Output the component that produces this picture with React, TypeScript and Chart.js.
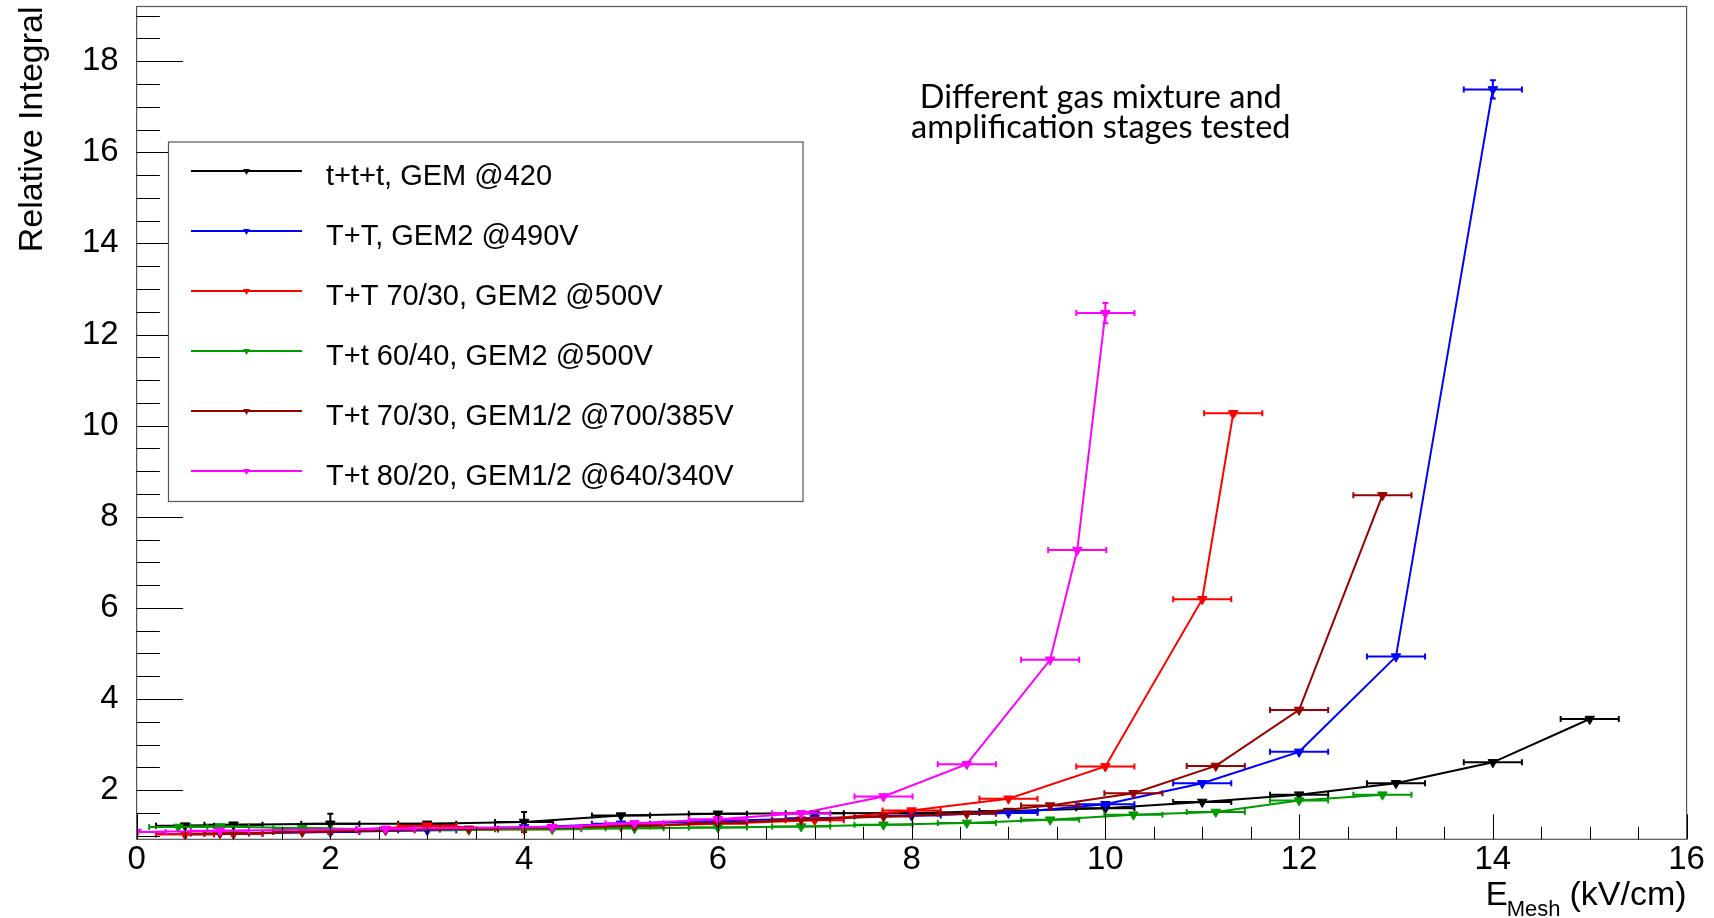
import React, { useEffect, useRef } from "react";
import { Chart, registerables } from "chart.js";

Chart.register(...registerables);

// ---------- axis setup ----------
const xTickValues = [0, 2, 4, 6, 8, 10, 12, 14, 16];
const yTickValues = [2, 4, 6, 8, 10, 12, 14, 16, 18];
const xMin = 0;
const xMax = 16;
const yMin = 0.92;
const yMax = 19.2;

// ---------- series ----------
const seriesNames = [
  "t+t+t, GEM @420",
  "T+T, GEM2 @490V",
  "T+T 70/30, GEM2 @500V",
  "T+t 60/40, GEM2 @500V",
  "T+t 70/30, GEM1/2 @700/385V",
  "T+t 80/20, GEM1/2 @640/340V",
];
const seriesColors = ["#000000", "#0000ff", "#ff0000", "#009900", "#990000", "#ff00ff"];

const blackX = [0.5, 1, 2, 3, 4, 5, 6, 7, 8, 9, 10, 11, 12, 13, 14, 15];
const blackY = [1.22, 1.24, 1.26, 1.26, 1.3, 1.44, 1.48, 1.49, 1.5, 1.54, 1.6, 1.74, 1.9, 2.15, 2.61, 3.56];
const blackYErr = [0, 0, 0.22, 0, 0.22, 0, 0, 0, 0, 0, 0, 0, 0, 0, 0, 0];

const blueX = [0.5, 1, 2, 3, 4, 5, 6, 7, 8, 9, 10, 11, 12, 13, 14];
const blueY = [1.03, 1.04, 1.08, 1.12, 1.18, 1.26, 1.32, 1.38, 1.44, 1.5, 1.69, 2.15, 2.84, 4.93, 17.38];
const blueYErr = [0, 0, 0, 0, 0, 0, 0, 0, 0, 0, 0, 0, 0, 0, 0.2];

const redX = [0.5, 1, 2, 3, 4, 5, 6, 7, 8, 9, 10, 11, 11.32];
const redY = [1.03, 1.04, 1.1, 1.22, 1.14, 1.2, 1.26, 1.34, 1.55, 1.81, 2.52, 6.19, 10.27];
const redYErr = [0, 0, 0, 0, 0, 0, 0, 0, 0, 0, 0, 0, 0.05];

const greenX = [0.43, 0.86, 1.71, 2.57, 3.43, 4.29, 5.14, 6.0, 6.86, 7.71, 8.57, 9.43, 10.29, 11.14, 12.0, 12.86];
const greenY = [1.19, 1.2, 1.16, 1.14, 1.13, 1.14, 1.16, 1.18, 1.2, 1.24, 1.28, 1.35, 1.46, 1.52, 1.77, 1.9];
const greenYErr = [0, 0, 0, 0, 0, 0, 0, 0, 0, 0, 0, 0, 0, 0, 0, 0];

const brownX = [0.86, 1.71, 2.57, 3.43, 4.29, 5.14, 6.0, 6.86, 7.71, 8.57, 9.43, 10.29, 11.14, 12.0, 12.86];
const brownY = [1.05, 1.08, 1.12, 1.15, 1.18, 1.22, 1.28, 1.35, 1.42, 1.48, 1.66, 1.93, 2.53, 3.76, 8.47];
const brownYErr = [0, 0, 0, 0, 0, 0, 0, 0, 0, 0, 0, 0, 0, 0, 0];

const magentaX = [0, 0.86, 2.57, 4.29, 5.14, 6.0, 6.86, 7.71, 8.57, 9.43, 9.71, 10.0];
const magentaY = [1.08, 1.11, 1.15, 1.19, 1.27, 1.36, 1.49, 1.86, 2.57, 4.86, 7.27, 12.47];
const magentaYErr = [0, 0, 0, 0, 0, 0, 0, 0, 0, 0, 0, 0.22];

const xErrorHalfWidth = 0.3;

// ---------- texts ----------
const annotationLines = ["Different gas mixture and", "amplification stages tested"];
const yTitle = "Relative Integral";
const xTitleMain = "E";
const xTitleSub = "Mesh";
const xTitleUnit = "(kV/cm)";

const allX = [blackX, blueX, redX, greenX, brownX, magentaX];
const allY = [blackY, blueY, redY, greenY, brownY, magentaY];
const allYErr = [blackYErr, blueYErr, redYErr, greenYErr, brownYErr, magentaYErr];

const FONT = "'Liberation Sans', Arial, Helvetica, sans-serif";

function downTriangle(ctx: CanvasRenderingContext2D, x: number, y: number, r: number) {
  ctx.beginPath();
  ctx.moveTo(x - r * 0.866, y - r * 0.5);
  ctx.lineTo(x + r * 0.866, y - r * 0.5);
  ctx.lineTo(x, y + r);
  ctx.closePath();
  ctx.fill();
}

const rootStylePlugin = {
  id: "rootStyle",
  beforeDatasetDraw(chart: any, args: any) {
    const ds = chart.data.datasets[args.index];
    const xs = chart.scales.x;
    const ys = chart.scales.y;
    const area = chart.chartArea;
    const ctx: CanvasRenderingContext2D = chart.ctx;
    ctx.save();
    ctx.beginPath();
    ctx.rect(area.left, area.top, area.right - area.left, area.bottom - area.top);
    ctx.clip();
    ctx.strokeStyle = ds.borderColor;
    ctx.lineWidth = 2;
    ds.data.forEach((p: any) => {
      const py = ys.getPixelForValue(p.y);
      const xl = xs.getPixelForValue(p.x - p.ex);
      const xr = xs.getPixelForValue(p.x + p.ex);
      const px = xs.getPixelForValue(p.x);
      ctx.beginPath();
      ctx.moveTo(xl, py);
      ctx.lineTo(xr, py);
      ctx.moveTo(xl, py - 3);
      ctx.lineTo(xl, py + 3);
      ctx.moveTo(xr, py - 3);
      ctx.lineTo(xr, py + 3);
      if (p.ey > 0) {
        const yt = ys.getPixelForValue(p.y + p.ey);
        const yb = ys.getPixelForValue(p.y - p.ey);
        ctx.moveTo(px, yt);
        ctx.lineTo(px, yb);
        ctx.moveTo(px - 3, yt);
        ctx.lineTo(px + 3, yt);
        ctx.moveTo(px - 3, yb);
        ctx.lineTo(px + 3, yb);
      }
      ctx.stroke();
    });
    ctx.restore();
  },
  afterDraw(chart: any) {
    const ctx: CanvasRenderingContext2D = chart.ctx;
    const xs = chart.scales.x;
    const ys = chart.scales.y;
    const a = chart.chartArea;
    ctx.save();

    // frame
    ctx.strokeStyle = "#555555";
    ctx.lineWidth = 1.2;
    ctx.strokeRect(a.left, a.top, a.right - a.left, a.bottom - a.top);

    // ticks
    ctx.strokeStyle = "#000000";
    ctx.lineWidth = 1;
    const xMajorLen = 0.03 * (a.bottom - a.top);
    const yMajorLen = 0.03 * (a.right - a.left);
    ctx.beginPath();
    for (let v = xMin; v <= xMax + 1e-9; v += 0.5) {
      const px = Math.round(xs.getPixelForValue(v)) + 0.5;
      const major = Math.abs(v / 2 - Math.round(v / 2)) < 1e-9;
      const len = major ? xMajorLen : xMajorLen / 2;
      ctx.moveTo(px, a.bottom);
      ctx.lineTo(px, a.bottom - len);
    }
    for (let v = 1; v <= 19 + 1e-9; v += 0.5) {
      const py = Math.round(ys.getPixelForValue(v)) + 0.5;
      const major = Math.abs(v / 2 - Math.round(v / 2)) < 1e-9;
      const len = major ? yMajorLen : yMajorLen / 2;
      ctx.moveTo(a.left, py);
      ctx.lineTo(a.left + len, py);
    }
    ctx.stroke();

    // y title
    ctx.save();
    ctx.fillStyle = "#000";
    ctx.font = `34px ${FONT}`;
    ctx.translate(41.5, a.top);
    ctx.rotate(-Math.PI / 2);
    ctx.textAlign = "right";
    ctx.textBaseline = "alphabetic";
    ctx.fillText(yTitle, 0, 0);
    ctx.restore();

    // x title
    ctx.fillStyle = "#000";
    ctx.textBaseline = "alphabetic";
    ctx.textAlign = "left";
    ctx.font = `34px ${FONT}`;
    const unitW = ctx.measureText(xTitleUnit).width;
    const unitX = a.right - unitW;
    ctx.fillText(xTitleUnit, unitX, 905);
    ctx.font = `22px ${FONT}`;
    const subW = ctx.measureText(xTitleSub).width;
    const subX = unitX - 9 - subW;
    ctx.fillText(xTitleSub, subX, 916);
    ctx.font = `33px ${FONT}`;
    const eW = ctx.measureText(xTitleMain).width;
    ctx.fillText(xTitleMain, subX - eW + 1, 905);

    // annotation
    ctx.font = `28px Lato, ${FONT}`;
    const w0 = ctx.measureText(annotationLines[0]).width;
    const size = (28 * 362) / w0;
    ctx.font = `${size}px Lato, ${FONT}`;
    ctx.textAlign = "center";
    ctx.fillText(annotationLines[0], 1100.8, 108.3);
    ctx.fillText(annotationLines[1], 1100.8, 137.7);

    // legend
    const lx = 168.5, ly = 142, lw = 634.5, lh = 359.5;
    ctx.fillStyle = "#ffffff";
    ctx.fillRect(lx, ly, lw, lh);
    ctx.strokeStyle = "#555555";
    ctx.lineWidth = 1.2;
    ctx.strokeRect(lx, ly, lw, lh);
    ctx.font = `29px ${FONT}`;
    ctx.textAlign = "left";
    seriesNames.forEach((name, i) => {
      const yy = 171 + i * 60;
      ctx.strokeStyle = seriesColors[i];
      ctx.lineWidth = 2;
      ctx.beginPath();
      ctx.moveTo(191, yy);
      ctx.lineTo(302, yy);
      ctx.stroke();
      ctx.fillStyle = seriesColors[i];
      downTriangle(ctx, 246.5, yy, 4);
      ctx.fillStyle = "#000";
      ctx.fillText(name, 326, yy + 14);
    });

    ctx.restore();
  },
};

export default function App() {
  const canvasRef = useRef<HTMLCanvasElement | null>(null);

  useEffect(() => {
    if (!canvasRef.current) return;
    const datasets = seriesNames.map((name, i) => ({
      label: name,
      data: allX[i].map((x, j) => ({ x, y: allY[i][j], ex: xErrorHalfWidth, ey: allYErr[i][j] })),
      borderColor: seriesColors[i],
      backgroundColor: seriesColors[i],
      showLine: true,
      borderWidth: 2,
      pointStyle: "triangle",
      pointRotation: 180,
      pointRadius: 5.5,
      pointBorderWidth: 1,
      order: seriesNames.length - i,
      clip: 0,
    }));

    const chart = new Chart(canvasRef.current, {
      type: "scatter",
      data: { datasets } as any,
      options: {
        animation: false,
        responsive: false,
        devicePixelRatio: 1,
        layout: { padding: { left: 0, top: 5.7, right: 27.4, bottom: 0 } },
        plugins: { legend: { display: false }, tooltip: { enabled: false } },
        scales: {
          x: {
            type: "linear",
            min: xMin,
            max: xMax,
            grid: { display: false },
            border: { display: false },
            afterBuildTicks: (s: any) => {
              s.ticks = xTickValues.map((v) => ({ value: v }));
            },
            afterFit: (s: any) => {
              s.height = 78.7;
              s.paddingLeft = 0;
              s.paddingRight = 0;
            },
            ticks: {
              color: "#000",
              font: { family: FONT, size: 33 },
              padding: -7,
              maxRotation: 0,
              autoSkip: false,
            },
          },
          y: {
            type: "linear",
            min: yMin,
            max: yMax,
            grid: { display: false },
            border: { display: false },
            afterBuildTicks: (s: any) => {
              s.ticks = yTickValues.map((v) => ({ value: v }));
            },
            afterFit: (s: any) => {
              s.width = 136.6;
              s.paddingTop = 0;
              s.paddingBottom = 0;
            },
            ticks: {
              color: "#000",
              font: { family: FONT, size: 33 },
              padding: 10,
              autoSkip: false,
            },
          },
        },
      } as any,
      plugins: [rootStylePlugin as any],
    });
    return () => chart.destroy();
  }, []);

  return (
    <div style={{ position: "fixed", left: 0, top: 0, width: 1714, height: 918, background: "#fff" }}>
      <canvas ref={canvasRef} width={1714} height={918} style={{ display: "block" }} />
    </div>
  );
}
